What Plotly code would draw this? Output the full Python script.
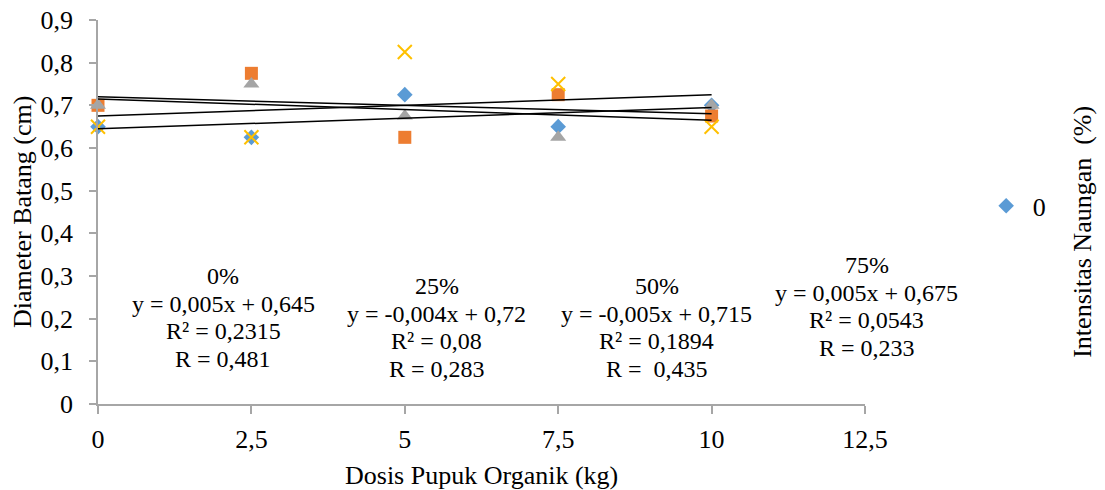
import numpy as np
import plotly.graph_objects as go

dosis = [0, 2.5, 5, 7.5, 10]
series_names = ["0", "25", "50", "75"]
naungan_0 = [0.65, 0.625, 0.725, 0.65, 0.70]
naungan_25 = [0.70, 0.775, 0.625, 0.725, 0.675]
naungan_50 = [0.70, 0.75, 0.675, 0.625, 0.70]
naungan_75 = [0.65, 0.625, 0.825, 0.75, 0.65]

y_ticks = [0, 0.1, 0.2, 0.3, 0.4, 0.5, 0.6, 0.7, 0.8, 0.9]
y_ticktext = ["0", "0,1", "0,2", "0,3", "0,4", "0,5", "0,6", "0,7", "0,8", "0,9"]
x_ticks = [0, 2.5, 5, 7.5, 10, 12.5]
x_ticktext = ["0", "2,5", "5", "7,5", "10", "12,5"]

eq_labels = [
    ["0%", "y = 0,005x + 0,645", "R² = 0,2315", "R = 0,481"],
    ["25%", "y = -0,004x + 0,72", "R² = 0,08", "R = 0,283"],
    ["50%", "y = -0,005x + 0,715", "R² = 0,1894", "R =  0,435"],
    ["75%", "y = 0,005x + 0,675", "R² = 0,0543", "R = 0,233"],
]
eq_x = [2.04, 5.52, 9.11, 12.53]
eq_y = [0.203, 0.179, 0.179, 0.2285]

X_RANGE = [0, 12.5]
Y_RANGE = [0, 0.9]

FONT = "Liberation Serif, Times New Roman, serif"
colors = ["#5B9BD5", "#ED7D31", "#A5A5A5", "#FFC000"]
symbols = ["diamond", "square", "triangle-up", "x-thin"]
sizes = [12, 13, 14, 14]
data = [naungan_0, naungan_25, naungan_50, naungan_75]

fig = go.Figure()

for i, ys in enumerate(data):
    marker = dict(color=colors[i], symbol=symbols[i], size=sizes[i])
    if symbols[i] == "x-thin":
        marker["line"] = dict(color=colors[i], width=2)
    fig.add_trace(go.Scatter(
        x=dosis, y=ys, mode="markers", name=series_names[i],
        marker=marker, showlegend=(i == 0), cliponaxis=False))

for i, ys in enumerate(data):
    slope, intercept = np.polyfit(dosis, ys, 1)
    xs = [dosis[0], dosis[-1]]
    fig.add_trace(go.Scatter(
        x=xs, y=[slope * x + intercept for x in xs], mode="lines",
        line=dict(color="black", width=1.5), showlegend=False,
        hoverinfo="skip", cliponaxis=False))

LINE_H = 27.7
for lines, x, y in zip(eq_labels, eq_x, eq_y):
    n = len(lines)
    px = (x - X_RANGE[0]) / (X_RANGE[1] - X_RANGE[0])
    py = (y - Y_RANGE[0]) / (Y_RANGE[1] - Y_RANGE[0])
    for j, t in enumerate(lines):
        fig.add_annotation(x=px, y=py, xref="paper", yref="paper", text=t,
                           showarrow=False,
                           yshift=((n - 1) / 2 - j) * LINE_H,
                           font=dict(family=FONT, size=24, color="black"),
                           align="center", xanchor="center", yanchor="middle")

fig.add_annotation(x=-0.099, y=0.5, xref="paper", yref="paper",
                   text="Diameter Batang (cm)", textangle=-90, showarrow=False,
                   font=dict(family=FONT, size=26, color="black"),
                   xanchor="center", yanchor="middle")
fig.add_annotation(x=0.5, y=-0.185, xref="paper", yref="paper",
                   text="Dosis Pupuk Organik (kg)", showarrow=False,
                   font=dict(family=FONT, size=26, color="black"),
                   xanchor="center", yanchor="middle")
fig.add_annotation(x=1.284, y=0.448, xref="paper", yref="paper",
                   text="Intensitas Naungan  (%)", textangle=-90, showarrow=False,
                   font=dict(family=FONT, size=26, color="black"),
                   xanchor="center", yanchor="middle")

fig.update_layout(
    width=1105, height=490,
    margin=dict(l=98, r=240, t=20, b=86, autoexpand=False),
    plot_bgcolor="white", paper_bgcolor="white",
    font=dict(family=FONT, size=26, color="black"),
    legend=dict(x=1.1495, y=0.516, xanchor="left", yanchor="middle",
                itemwidth=43,
                font=dict(family=FONT, size=26, color="black"),
                bgcolor="rgba(0,0,0,0)"),
    xaxis=dict(range=X_RANGE, tickvals=x_ticks, ticktext=x_ticktext,
               showgrid=False, zeroline=False, showline=True, automargin=False,
               linecolor="#A6A6A6", linewidth=1.5, ticks="outside",
               tickcolor="#A6A6A6", ticklen=8, tickwidth=1.5,
               ticklabelstandoff=3,
               tickfont=dict(family=FONT, size=26, color="black")),
    yaxis=dict(range=Y_RANGE, tickvals=y_ticks, ticktext=y_ticktext,
               showgrid=False, zeroline=False, showline=True, automargin=False,
               linecolor="#A6A6A6", linewidth=1.5, ticks="outside",
               tickcolor="#A6A6A6", ticklen=7, tickwidth=1.5,
               ticklabelstandoff=11, ticklabeloverflow="allow",
               tickfont=dict(family=FONT, size=26, color="black")),
)

fig.write_html("out.html",
               config={"displayModeBar": False},
               post_script="document.body.style.margin='0';document.body.style.overflow='hidden';")
